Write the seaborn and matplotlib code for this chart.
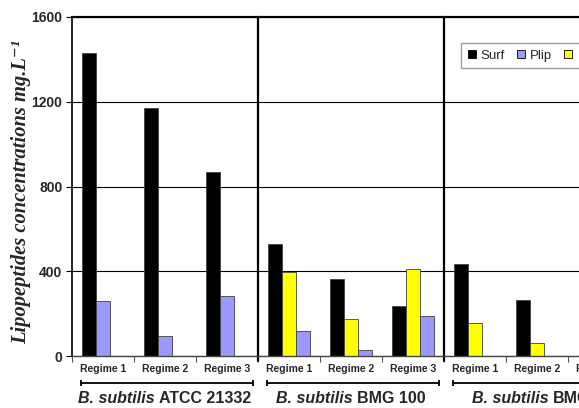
import numpy as np
import pandas as pd
import matplotlib
matplotlib.use("Agg")
import matplotlib.pyplot as plt
import matplotlib.transforms as mtransforms
from matplotlib.patches import Patch
import seaborn as sns

# values (mg.L-1)
strains = ["ATCC 21332", "BMG 100", "BMG"]
regimes = ["Regime 1", "Regime 2", "Regime 3"]

surf_atcc = [1430, 1170, 870]
plip_atcc = [260, 95, 285]

surf_bmg100 = [530, 365, 235]
itu_bmg100 = [395, 175, 410]
plip_bmg100 = [120, 30, 190]

surf_bmg = [435, 265]
itu_bmg = [155, 60]

colors = {"Surf": "black", "Plip": "#9999ff", "Itu": "#ffff00"}
legend_order = ["Surf", "Plip", "Itu"]

data = {
    "ATCC 21332": {"Surf": surf_atcc, "Plip": plip_atcc},
    "BMG 100": {"Surf": surf_bmg100, "Itu": itu_bmg100, "Plip": plip_bmg100},
    "BMG": {"Surf": surf_bmg, "Itu": itu_bmg},
}
rows = []
for strain, d in data.items():
    for ser, vals in d.items():
        for reg, v in zip(regimes, vals):
            rows.append(dict(strain=strain, series=ser, cat=f"{strain} | {reg}", value=v))
df = pd.DataFrame(rows)
cats = [f"{s} | {r}" for s in strains for r in regimes]

sns.set_style("white")
plt.rcParams["font.family"] = ["Liberation Sans", "DejaVu Sans"]

fig = plt.figure(figsize=(5.79, 4.08), dpi=100)
ax = fig.add_axes([72 / 579, 52 / 408, 558 / 579, 339 / 408])

for strain in strains:
    sub = df[df.strain == strain]
    if "Itu" in sub.series.values:
        hue_order = ["Surf", "Itu", "Plip"]
    else:
        hue_order = ["Surf", "Plip", "Itu"]
    sns.barplot(data=sub, x="cat", y="value", hue="series", order=cats,
                hue_order=hue_order, palette=colors, width=0.68, saturation=1,
                edgecolor="#404040", linewidth=0.6, errorbar=None,
                legend=False, ax=ax)

ax.set_xlim(-0.5, len(cats) - 0.5)
ax.set_ylim(0, 1600)
ax.set_yticks([0, 400, 800, 1200, 1600])
ax.set_yticklabels(["0", "400", "800", "1200", "1600"], fontsize=10, fontweight="bold")
ax.yaxis.grid(True, color="black", lw=0.8)
ax.set_axisbelow(True)
ax.tick_params(axis="y", direction="out", length=4, width=0.8, color="black", pad=3, left=True)

ax.set_xticks(range(len(cats)))
ax.set_xticklabels([c.split(" | ")[1] for c in cats], fontsize=7.5, fontweight="bold")
ax.tick_params(axis="x", which="major", length=0, pad=6)
ax.set_xticks(np.arange(-0.5, len(cats), 1), minor=True)
ax.tick_params(axis="x", which="minor", direction="out", length=4, width=0.8, color="#555555", bottom=True)
ax.set_xlabel("")
ax.set_ylabel("")

ax.spines["top"].set_linewidth(1.6)
ax.spines["left"].set_linewidth(1.2)
ax.spines["bottom"].set_linewidth(1.0)
ax.spines["bottom"].set_color("#444444")
for s in ["top", "left"]:
    ax.spines[s].set_color("black")
ax.spines["right"].set_visible(False)

for i in (1, 2):
    ax.axvline(3 * i - 0.5, ymin=-0.015, ymax=1, color="black", lw=1.6, clip_on=False)

# strain brackets and labels (italic genus/species + upright strain code)
renderer = fig.canvas.get_renderer()
trans = mtransforms.blended_transform_factory(ax.transData, ax.transAxes)
lab_kw = dict(fontsize=11.5, fontweight="bold", va="center", ha="left", transform=trans)


def text_width(s, **kw):
    t = fig.text(0, 0, s, fontsize=11.5, fontweight="bold", **kw)
    w = t.get_window_extent(renderer).width
    t.remove()
    return w


space_w = text_width("a a") - text_width("aa")
it_w = text_width("B. subtilis", style="italic")
for i, strain in enumerate(strains):
    x0 = 3 * i - 0.5 + 0.15
    x1 = 3 * i + 2.5 - 0.08
    ax.plot([x0, x1], [-0.08, -0.08], transform=trans, clip_on=False,
            color="black", lw=1.3, marker="|", markersize=5, markeredgewidth=1.3)
    total_w = it_w + space_w + text_width(strain)
    if i < 2:
        xc = ax.transData.transform((3 * i + 1, 0))[0]
        start = xc - total_w / 2
    else:
        start = ax.transData.transform((3 * i - 0.5 + 0.45, 0))[0]
    x_data = ax.transData.inverted().transform((start, 0))[0]
    ax.text(x_data, -0.125, "B. subtilis", style="italic", **lab_kw)
    x_data2 = ax.transData.inverted().transform((start + it_w + space_w, 0))[0]
    ax.text(x_data2, -0.125, strain, **lab_kw)

fig.text(21 / 579, 1 - 192 / 408, "Lipopeptides concentrations mg.L⁻¹",
         rotation=90, ha="center", va="center", fontsize=14.8,
         family=["Liberation Serif", "DejaVu Serif"], fontstyle="italic", fontweight="bold")

handles = [Patch(facecolor=colors[k], edgecolor="black", lw=0.6, label=k) for k in legend_order]
fig.legend(handles=handles, loc="upper left", bbox_to_anchor=(461 / 579, 1 - 43 / 408),
           ncol=3, frameon=True, fancybox=False, edgecolor="#888888", fontsize=9.5,
           handlelength=0.6, handleheight=0.6, handletextpad=0.4, columnspacing=0.9,
           borderpad=0.5, borderaxespad=0)

fig.savefig("out.png", dpi=100)
